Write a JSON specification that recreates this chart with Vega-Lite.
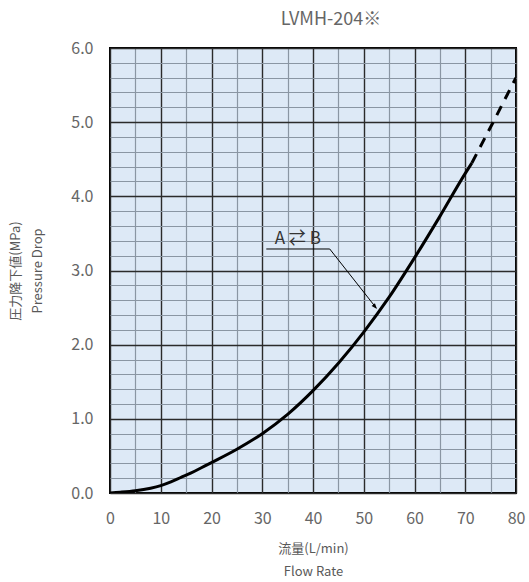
{
  "$schema": "https://vega.github.io/schema/vega-lite/v6.json",
  "width": 406,
  "height": 445,
  "autosize": "none",
  "padding": {"left": 110, "top": 48, "right": 13, "bottom": 89},
  "background": "white",
  "config": {
    "view": {"fill": "#dde9f6", "stroke": "#000000", "strokeWidth": 2},
    "font": "Noto Sans CJK JP"
  },
  "title": {"text": "LVMH-204※", "fontSize": 18, "fontWeight": "normal", "color": "#666666", "offset": 11, "dx": 18, "font": "Noto Sans CJK JP"},
  "datasets": {
    "solid": [
      {"x": 0, "y": 0}, {"x": 2, "y": 0.01}, {"x": 5, "y": 0.03}, {"x": 8, "y": 0.065},
      {"x": 10, "y": 0.1}, {"x": 12, "y": 0.15}, {"x": 14, "y": 0.21}, {"x": 16, "y": 0.27},
      {"x": 18, "y": 0.34}, {"x": 20, "y": 0.41}, {"x": 25, "y": 0.59}, {"x": 30, "y": 0.8},
      {"x": 35, "y": 1.06}, {"x": 40, "y": 1.38}, {"x": 45, "y": 1.75}, {"x": 50, "y": 2.17},
      {"x": 55, "y": 2.64}, {"x": 60, "y": 3.17}, {"x": 65, "y": 3.73}, {"x": 70, "y": 4.31},
      {"x": 71.3, "y": 4.45}
    ],
    "dashed": [
      {"x": 71.3, "y": 4.45}, {"x": 75.5, "y": 5.0}, {"x": 80, "y": 5.6}
    ],
    "leader": [
      {"x": 30.8, "y": 3.29, "o": 1}, {"x": 43.3, "y": 3.29, "o": 2}, {"x": 52.4, "y": 2.5, "o": 3}
    ],
    "tip": [{"x": 52.6, "y": 2.48}],
    "label": [{"x": 37.0, "y": 3.42, "t": "A ⇄ B"}]
  },
  "encoding": {
    "x": {
      "field": "x", "type": "quantitative",
      "scale": {"domain": [0, 80], "nice": false},
      "axis": {
        "values": [0, 5, 10, 15, 20, 25, 30, 35, 40, 45, 50, 55, 60, 65, 70, 75, 80],
        "grid": true,
        "gridColor": {"condition": {"test": "datum.value % 10 === 0", "value": "#2b2b2b"}, "value": "#8a96a3"},
        "gridWidth": {"condition": {"test": "datum.value % 10 === 0", "value": 1.4}, "value": 1.2},
        "ticks": false,
        "domain": false,
        "labelFlush": false,
        "labelOverlap": false,
        "labelExpr": "datum.value % 10 === 0 ? datum.label : ''",
        "labelFontSize": 16,
        "labelColor": "#666666",
        "labelPadding": 17,
        "labelFont": "Noto Sans CJK JP",
        "title": ["流量(L/min)", "Flow Rate"],
        "titleFontSize": 13,
        "titleFontWeight": "normal",
        "titleColor": "#595959",
        "titleLineHeight": 23,
        "titlePadding": 16,
        "titleFont": "Noto Sans CJK JP"
      }
    },
    "y": {
      "field": "y", "type": "quantitative",
      "scale": {"domain": [0, 6], "nice": false},
      "axis": {
        "values": [0, 0.2, 0.4, 0.6, 0.8, 1, 1.2, 1.4, 1.6, 1.8, 2, 2.2, 2.4, 2.6, 2.8, 3, 3.2, 3.4, 3.6, 3.8, 4, 4.2, 4.4, 4.6, 4.8, 5, 5.2, 5.4, 5.6, 5.8, 6],
        "grid": true,
        "gridColor": {"condition": {"test": "abs(datum.value - round(datum.value)) < 0.01", "value": "#2b2b2b"}, "value": "#8a96a3"},
        "gridWidth": {"condition": {"test": "abs(datum.value - round(datum.value)) < 0.01", "value": 1.4}, "value": 1.2},
        "ticks": false,
        "domain": false,
        "labelFlush": false,
        "labelOverlap": false,
        "format": ".1f",
        "labelExpr": "abs(datum.value - round(datum.value)) < 0.01 ? datum.label : ''",
        "labelFontSize": 16,
        "labelColor": "#666666",
        "labelPadding": 17,
        "labelFont": "Noto Sans CJK JP",
        "title": ["圧力降下値(MPa)", "Pressure Drop"],
        "titleFontSize": 13,
        "titleFontWeight": "normal",
        "titleColor": "#595959",
        "titleLineHeight": 22,
        "titlePadding": 26,
        "titleFont": "Noto Sans CJK JP"
      }
    }
  },
  "layer": [
    {
      "data": {"name": "solid"},
      "mark": {"type": "line", "color": "#000000", "strokeWidth": 3, "interpolate": "monotone", "clip": true}
    },
    {
      "data": {"name": "dashed"},
      "mark": {"type": "line", "color": "#000000", "strokeWidth": 3, "strokeDash": [10, 8], "interpolate": "linear", "clip": true}
    },
    {
      "data": {"name": "leader"},
      "mark": {"type": "line", "color": "#000000", "strokeWidth": 1},
      "encoding": {"order": {"field": "o", "type": "quantitative"}}
    },
    {
      "data": {"name": "tip"},
      "mark": {"type": "point", "shape": "M0,0L-0.45,1.2L0.45,1.2Z", "filled": true, "color": "#000000", "size": 90, "angle": 140, "opacity": 1}
    },
    {
      "data": {"name": "label"},
      "mark": {"type": "text", "fontSize": 17, "color": "#333333", "font": "Noto Sans CJK JP", "baseline": "middle", "align": "center"},
      "encoding": {"text": {"field": "t"}}
    }
  ]
}
